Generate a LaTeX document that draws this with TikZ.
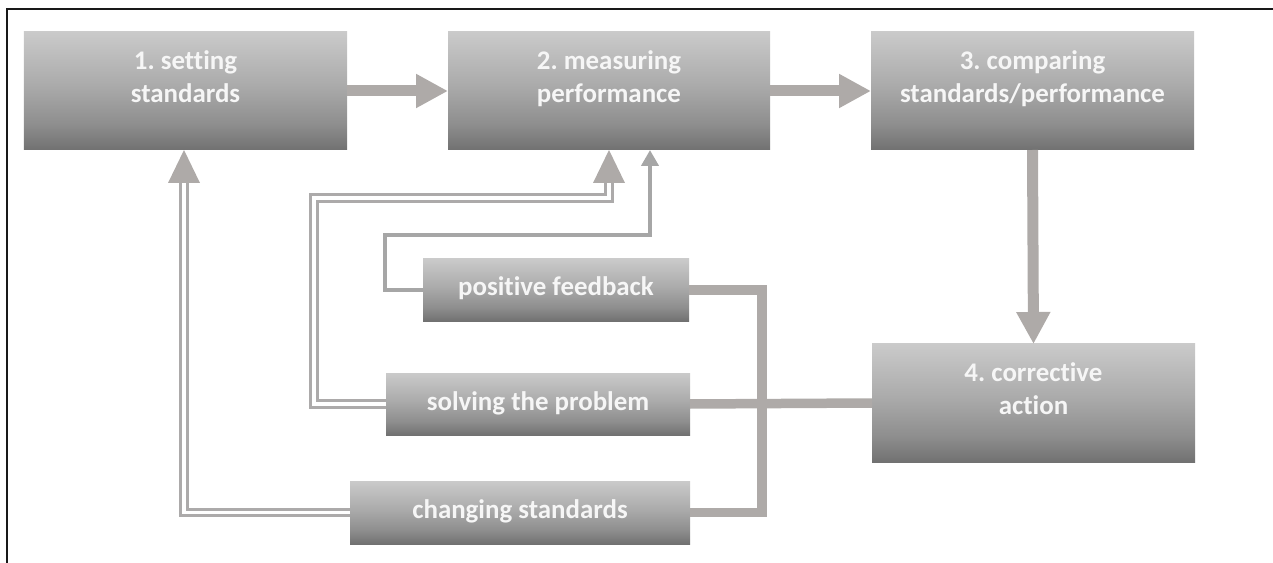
\documentclass[tikz,border=0pt]{standalone}
\usepackage{fontspec}
\setmainfont{Carlito}[Ligatures={NoCommon}]
\usetikzlibrary{arrows.meta,calc}
\frenchspacing

% box fill: light grey at the top, darker towards the bottom
\definecolor{bxtop}{RGB}{202,202,202}
\definecolor{bxmid}{RGB}{170,170,170}
\definecolor{bxlow}{RGB}{142,142,142}
\definecolor{bxbot}{RGB}{113,113,113}
\pgfdeclareverticalshading{boxshade}{100bp}{%
  color(0bp)=(bxbot); color(25bp)=(bxbot); color(36bp)=(bxlow);
  color(52bp)=(bxmid); color(75bp)=(bxtop); color(100bp)=(bxtop)}

\definecolor{arrowgray}{RGB}{174,170,168}
\definecolor{dblgray}{RGB}{172,170,170}
\definecolor{fbgray}{RGB}{166,166,166}
\definecolor{boxtext}{RGB}{246,246,246}

\tikzset{
  box/.style={shading=boxshade, inner sep=0pt, outer sep=0pt,
    text=boxtext, font=\bfseries\fontsize{27}{33}\selectfont,
    text height=18bp, text depth=6bp},
  boxtxt/.style={inner sep=0pt, outer sep=0pt, align=center,
    text=boxtext, font=\bfseries\fontsize{27}{32.5}\selectfont},
  mainarrow/.style={draw=arrowgray, line width=11bp,
    -{Triangle[length=32bp,width=32bp]}},
  fbthick/.style={draw=arrowgray, line width=9.5bp, line join=miter},
  dbl/.style={draw=dblgray, line width=2.7bp, double=white,
    double distance=3.8bp},
  fbthin/.style={draw=fbgray, line width=4.5bp,
    -{Triangle[length=16bp,width=17bp]}},
  headfill/.style={fill=arrowgray},
  frame/.style={draw=black!90, line width=1.6bp}
}

\begin{document}
\begin{tikzpicture}[x=1bp,y=-1bp]
\useasboundingbox (0,0) rectangle (1273,563);

% outer frame (top and left edges)
\draw[frame] (1273,9) -- (7,9) -- (7,563);

% bend points of the feedback lines
\coordinate (pcorner) at (385,235);
\coordinate (scorner) at (314,198);
\coordinate (fbx) at (762,400);

% the four main steps
\node[box, minimum width=323bp, minimum height=118bp] (b1) at (185.5,91) {};
\node[box, minimum width=322bp, minimum height=118bp] (b2) at (609,91) {};
\node[box, minimum width=323bp, minimum height=118bp] (b3) at (1032.5,91) {};
\node[box, minimum width=323bp, minimum height=118bp] (b4) at (1033.5,403) {};

% the three follow-up actions
\node[box, minimum width=266bp, minimum height=62bp] (pos) at (556,290) {positive feedback};
\node[box, minimum width=304bp, minimum height=62bp] (sol) at (538,404) {solving the problem};
\node[box, minimum width=340bp, minimum height=63bp] (chg) at (520,512.5) {changing standards};

% labels of the two-line steps
\node[boxtxt, anchor=north] (b1t) at ([yshift=-15bp]b1.north) {\strut 1. setting\\\strut standards};
\node[boxtxt, anchor=north] (b2t) at ([yshift=-15bp]b2.north) {\strut 2. measuring\\\strut performance};
\node[boxtxt, anchor=north] (b3t) at ([yshift=-15bp]b3.north) {\strut 3. comparing\\\strut standards/performance};
\node[boxtxt, anchor=north] (b4t) at ([yshift=-15bp]b4.north) {\strut 4. corrective\\\strut action};

% main cycle arrows
\draw[mainarrow] (b1.east) -- (b2.west);
\draw[mainarrow] (b2.east) -- (b3.west);
\draw[mainarrow] (b3.south) -- (b4.north);

% corrective action feeds the three follow-ups
\draw[fbthick] (sol.east) -- (b4.west);
\draw[fbthick] (pos.east) -| (fbx) |- (chg.east);

% positive feedback back to measuring
\draw[fbthin] (pos.west) -| (pcorner) -| ([xshift=41bp]b2.south);

% solving the problem back to measuring (double line)
\coordinate (h2) at ([yshift=-33bp]b2.south);
\draw[dbl] (sol.west) -| (scorner) -| (h2);
\fill[headfill] (b2.south) -- ([xshift=-16bp,yshift=-33bp]b2.south)
  -- ([xshift=16bp,yshift=-33bp]b2.south) -- cycle;

% changing standards back to setting (double line)
\coordinate (h1) at ([xshift=-1.5bp,yshift=-33bp]b1.south);
\draw[dbl] (chg.west) -| (h1);
\fill[headfill] ([xshift=-1.5bp]b1.south) -- ([xshift=-17.5bp,yshift=-33bp]b1.south)
  -- ([xshift=14.5bp,yshift=-33bp]b1.south) -- cycle;
\end{tikzpicture}
\end{document}
